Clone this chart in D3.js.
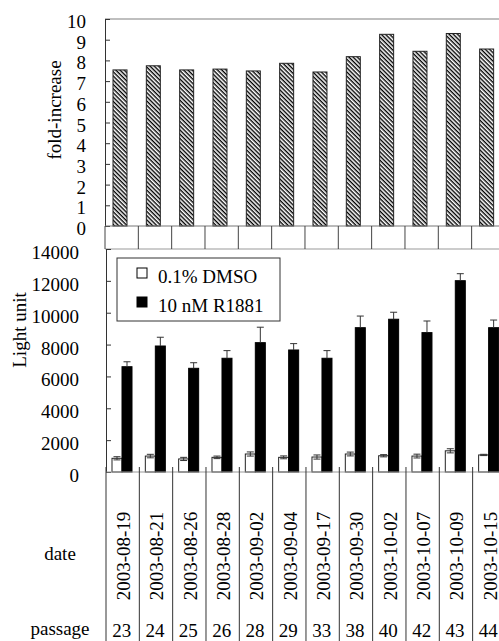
<!DOCTYPE html>
<html>
<head>
<meta charset="utf-8">
<script src="https://cdn.jsdelivr.net/npm/d3@7"></script>
</head>
<body style="margin:0">
<svg id="chart" width="499" height="641" style="display:block;background:#fff"></svg>
<script>
// Assay dates (one column per date) and cell passage numbers
const dates = ["2003-08-19", "2003-08-21", "2003-08-26", "2003-08-28", "2003-09-02", "2003-09-04",
               "2003-09-17", "2003-09-30", "2003-10-02", "2003-10-07", "2003-10-09", "2003-10-15"];
const passages = [23, 24, 25, 26, 28, 29, 33, 38, 40, 42, 43, 44];

// Upper panel: induction (fold-increase)
const foldIncrease = [7.54, 7.74, 7.54, 7.58, 7.49, 7.86, 7.44, 8.18, 9.26, 8.44, 9.30, 8.55];

// Lower panel: luciferase light units, mean and error
const dmso = [860, 1000, 820, 920, 1130, 920, 940, 1130, 1020, 1000, 1330, 1070];
const dmsoErr = [100, 110, 100, 80, 130, 90, 130, 120, 70, 120, 130, 40];
const r1881 = [6610, 7910, 6510, 7140, 8120, 7660, 7140, 9060, 9590, 8750, 12010, 9060];
const r1881Err = [310, 550, 350, 480, 970, 400, 480, 730, 440, 730, 440, 480];

const foldTicks = d3.range(0, 11);
const lightTicks = [0, 2000, 4000, 6000, 8000, 10000, 12000, 14000];
const seriesNames = ["0.1% DMSO", "10 nM R1881"];

const svg = d3.select("#chart");
const W = 499;
const step = 33.33;

// helper: every label shares one serif face
function label(sel) {
  return sel
    .attr("font-family", "Liberation Serif")
    .attr("font-size", 19)
    .attr("fill", "#000")
    .attr("style", "font-family:'Liberation Serif' !important;font-size:19px !important;fill:#000");
}

// patterned fill for the fold-increase bars
const defs = svg.append("defs");
const pat = defs.append("pattern")
  .attr("id", "hatch")
  .attr("patternUnits", "userSpaceOnUse")
  .attr("width", 3).attr("height", 3)
  .attr("patternTransform", "rotate(45)");
pat.append("rect").attr("width", 3).attr("height", 3).attr("fill", "#fff");
pat.append("rect").attr("width", 3).attr("height", 1).attr("y", 0).attr("fill", "#000");
pat.append("rect").attr("width", 3).attr("height", 1).attr("y", 1).attr("fill", "#9a9a9a");

// ---------- upper panel ----------
const xTop = d3.scaleBand().domain(dates).range([105, 105 + 12 * step]).padding(0);
const yTop = d3.scaleLinear().domain([0, 10]).range([226, 19]);

svg.append("line").attr("x1", 105).attr("x2", W).attr("y1", 19).attr("y2", 19)
  .attr("stroke", "#aaa").attr("stroke-width", 1.5);

svg.append("g").selectAll("rect").data(dates).join("rect")
  .attr("x", d => xTop(d) + 8)
  .attr("width", 14)
  .attr("y", (d, i) => yTop(foldIncrease[i]))
  .attr("height", (d, i) => yTop(0) - yTop(foldIncrease[i]))
  .attr("fill", "url(#hatch)")
  .attr("stroke", "#222").attr("stroke-width", 1);

const axTop = svg.append("g").attr("transform", "translate(105,0)")
  .call(d3.axisLeft(yTop).tickValues(foldTicks).tickFormat(d3.format("d"))
    .tickSizeInner(-5).tickSizeOuter(0).tickPadding(19));
axTop.attr("font-family", "Liberation Serif").attr("font-size", 19);
axTop.select(".domain").attr("stroke", "#333");
axTop.selectAll(".tick line").attr("stroke", "#333");
label(axTop.selectAll(".tick text")).attr("dy", "0.45em");

label(svg.append("text")).attr("transform", "translate(54,110) rotate(-90)")
  .attr("text-anchor", "middle").attr("dominant-baseline", "central")
  .text("fold-increase");

// row of empty cells between the panels
svg.append("line").attr("x1", 105).attr("x2", W).attr("y1", 226).attr("y2", 226).attr("stroke", "#777");
svg.append("line").attr("x1", 105).attr("x2", W).attr("y1", 249).attr("y2", 249).attr("stroke", "#999").attr("stroke-width", 1.2);
svg.append("g").selectAll("line").data(dates).join("line")
  .attr("x1", d => xTop(d)).attr("x2", d => xTop(d))
  .attr("y1", 226).attr("y2", 249).attr("stroke", "#444");

// ---------- lower panel ----------
const xBot = d3.scaleBand().domain(dates).range([106, 106 + 12 * step]).padding(0);
const xSub = d3.scaleBand().domain(seriesNames).range([6, 26]).padding(0);
const yBot = d3.scaleLinear().domain([0, 14000]).range([472, 249]);

const axBot = svg.append("g").attr("transform", "translate(106,0)")
  .call(d3.axisLeft(yBot).tickValues(lightTicks).tickFormat(d3.format("d"))
    .tickSizeInner(-5).tickSizeOuter(0).tickPadding(27));
axBot.attr("font-family", "Liberation Serif").attr("font-size", 19);
axBot.select(".domain").attr("stroke", "#333");
axBot.selectAll(".tick line").attr("stroke", "#333");
label(axBot.selectAll(".tick text")).attr("dy", "0.5em");

label(svg.append("text")).attr("transform", "translate(19,330) rotate(-90)")
  .attr("text-anchor", "middle").attr("dominant-baseline", "central")
  .text("Light unit");

const groups = svg.append("g").selectAll("g").data(dates).join("g")
  .attr("transform", d => `translate(${xBot(d)},0)`);

// vehicle bars (white) with symmetric error bars
groups.append("rect")
  .attr("x", xSub(seriesNames[0])).attr("width", xSub.bandwidth())
  .attr("y", (d, i) => yBot(dmso[i]))
  .attr("height", (d, i) => yBot(0) - yBot(dmso[i]))
  .attr("fill", "#fff").attr("stroke", "#222");
const cw = xSub(seriesNames[0]) + xSub.bandwidth() / 2;
groups.append("line")
  .attr("x1", cw).attr("x2", cw)
  .attr("y1", (d, i) => yBot(dmso[i] + dmsoErr[i]))
  .attr("y2", (d, i) => yBot(dmso[i] - dmsoErr[i]))
  .attr("stroke", "#333");
groups.append("line")
  .attr("x1", cw - 3.5).attr("x2", cw + 3.5)
  .attr("y1", (d, i) => yBot(dmso[i] + dmsoErr[i]))
  .attr("y2", (d, i) => yBot(dmso[i] + dmsoErr[i]))
  .attr("stroke", "#333");
groups.append("line")
  .attr("x1", cw - 3.5).attr("x2", cw + 3.5)
  .attr("y1", (d, i) => yBot(dmso[i] - dmsoErr[i]))
  .attr("y2", (d, i) => yBot(dmso[i] - dmsoErr[i]))
  .attr("stroke", "#333");

// androgen-treated bars (black) with upper error bars
groups.append("rect")
  .attr("x", xSub(seriesNames[1])).attr("width", xSub.bandwidth())
  .attr("y", (d, i) => yBot(r1881[i]))
  .attr("height", (d, i) => yBot(0) - yBot(r1881[i]))
  .attr("fill", "#000").attr("stroke", "#000");
const cb = xSub(seriesNames[1]) + xSub.bandwidth() / 2;
groups.append("line")
  .attr("x1", cb).attr("x2", cb)
  .attr("y1", (d, i) => yBot(r1881[i] + r1881Err[i]))
  .attr("y2", (d, i) => yBot(r1881[i]))
  .attr("stroke", "#333");
groups.append("line")
  .attr("x1", cb - 3.5).attr("x2", cb + 3.5)
  .attr("y1", (d, i) => yBot(r1881[i] + r1881Err[i]))
  .attr("y2", (d, i) => yBot(r1881[i] + r1881Err[i]))
  .attr("stroke", "#333");

// baseline of the lower panel
svg.append("line").attr("x1", 106).attr("x2", W).attr("y1", 472).attr("y2", 472)
  .attr("stroke", "#999").attr("stroke-width", 1.2);

// legend
const lg = svg.append("g");
lg.append("rect").attr("x", 117).attr("y", 258).attr("width", 163).attr("height", 63)
  .attr("fill", "#fff").attr("stroke", "#333");
const legendRows = [
  { name: seriesNames[0], fill: "#fff", y: 268 },
  { name: seriesNames[1], fill: "#000", y: 297 }
];
legendRows.forEach(r => {
  lg.append("rect").attr("x", 137).attr("y", r.y).attr("width", 10).attr("height", 10)
    .attr("fill", r.fill).attr("stroke", "#000");
  label(lg.append("text")).attr("x", 158).attr("y", r.y + 15).text(r.name);
});

// ---------- table under the lower panel ----------
svg.append("g").selectAll("line").data(dates).join("line")
  .attr("x1", d => xBot(d)).attr("x2", d => xBot(d))
  .attr("y1", 467).attr("y2", 641).attr("stroke", "#333");

label(svg.append("g").selectAll("text").data(dates).join("text"))
  .attr("transform", d => `translate(${xBot(d) + step / 2 + 1},556) rotate(-90)`)
  .attr("text-anchor", "middle").attr("dominant-baseline", "central")
  .text(d => d);

label(svg.append("g").selectAll("text").data(dates).join("text"))
  .attr("x", d => xBot(d) + step / 2 - 1).attr("y", 637)
  .attr("text-anchor", "middle")
  .text((d, i) => passages[i]);

label(svg.append("text")).attr("x", 60).attr("y", 560).attr("text-anchor", "middle")
  .text("date");
label(svg.append("text")).attr("x", 60).attr("y", 635).attr("text-anchor", "middle")
  .text("passage");
</script>
</body>
</html>
